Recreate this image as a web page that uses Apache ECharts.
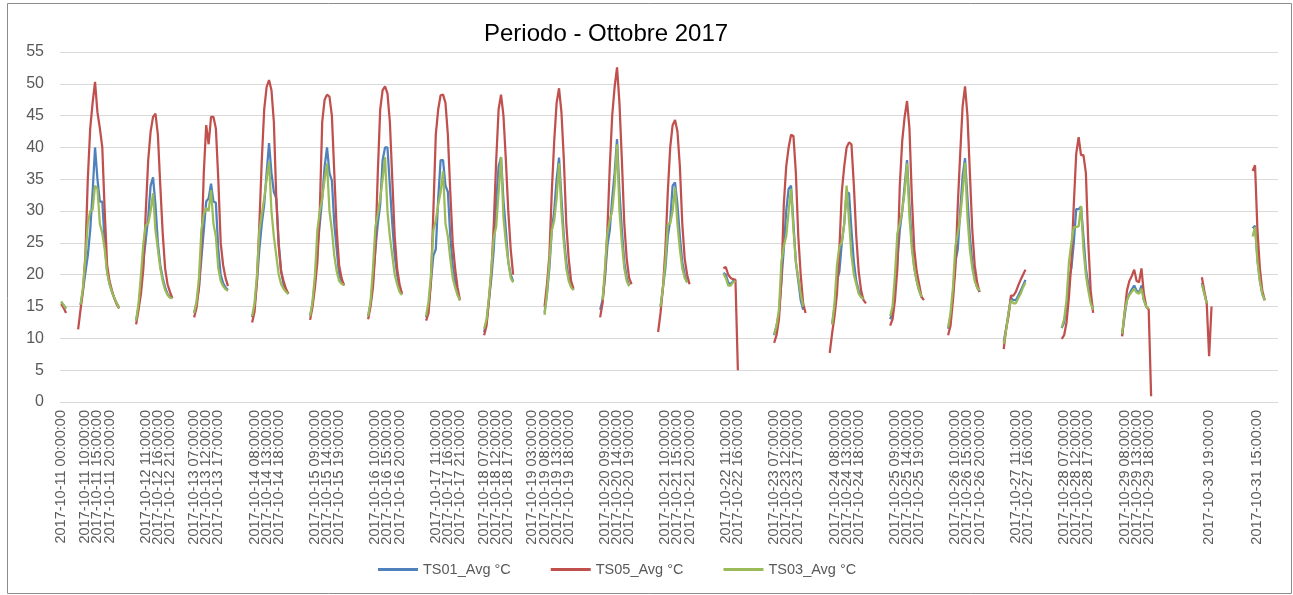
<!DOCTYPE html>
<html>
<head>
<meta charset="utf-8">
<script src="https://cdn.jsdelivr.net/npm/echarts@6/dist/echarts.min.js"></script>
<style>
    html, body { margin: 0; padding: 0; background: #fff; }
    #chart { width: 1293px; height: 595px; }
</style>
</head>
<body>
<div id="chart"></div>
<script>
    // hourly rows from 2017-10-11 00:00 to 2017-10-31 23:00
    const firstDay = 11, lastDay = 31;
    const categories = [];
    for (let d = firstDay; d <= lastDay; d++) {
        for (let h = 0; h < 24; h++) {
            categories.push('2017-10-' + d + ' ' + (h < 10 ? '0' + h : h) + ':00:00');
        }
    }

    // labels shown on the x axis
    const tickLabels = [
        '2017-10-11 00:00:00', '2017-10-11 10:00:00', '2017-10-11 15:00:00', '2017-10-11 20:00:00',
        '2017-10-12 11:00:00', '2017-10-12 16:00:00', '2017-10-12 21:00:00',
        '2017-10-13 07:00:00', '2017-10-13 12:00:00', '2017-10-13 17:00:00',
        '2017-10-14 08:00:00', '2017-10-14 13:00:00', '2017-10-14 18:00:00',
        '2017-10-15 09:00:00', '2017-10-15 14:00:00', '2017-10-15 19:00:00',
        '2017-10-16 10:00:00', '2017-10-16 15:00:00', '2017-10-16 20:00:00',
        '2017-10-17 11:00:00', '2017-10-17 16:00:00', '2017-10-17 21:00:00',
        '2017-10-18 07:00:00', '2017-10-18 12:00:00', '2017-10-18 17:00:00',
        '2017-10-19 03:00:00', '2017-10-19 08:00:00', '2017-10-19 13:00:00', '2017-10-19 18:00:00',
        '2017-10-20 09:00:00', '2017-10-20 14:00:00', '2017-10-20 19:00:00',
        '2017-10-21 10:00:00', '2017-10-21 15:00:00', '2017-10-21 20:00:00',
        '2017-10-22 11:00:00', '2017-10-22 16:00:00',
        '2017-10-23 07:00:00', '2017-10-23 12:00:00', '2017-10-23 17:00:00',
        '2017-10-24 08:00:00', '2017-10-24 13:00:00', '2017-10-24 18:00:00',
        '2017-10-25 09:00:00', '2017-10-25 14:00:00', '2017-10-25 19:00:00',
        '2017-10-26 10:00:00', '2017-10-26 15:00:00', '2017-10-26 20:00:00',
        '2017-10-27 11:00:00', '2017-10-27 16:00:00',
        '2017-10-28 07:00:00', '2017-10-28 12:00:00', '2017-10-28 17:00:00',
        '2017-10-29 08:00:00', '2017-10-29 13:00:00', '2017-10-29 18:00:00',
        '2017-10-30 19:00:00',
        '2017-10-31 15:00:00'
    ];

    // each entry: first timestamp of a run, then consecutive hourly values
    const ts01 = [
        ['2017-10-11 00:00:00', [15.7, 15.2, 14.7]],
        ['2017-10-11 08:00:00', [15.2, 17.5, 20.3, 23, 27, 33, 40, 35, 31.5, 31.5, 25, 20.5, 18.5, 17.3, 16.3, 15.5, 14.8]],
        ['2017-10-12 07:00:00', [12.8, 15, 18.5, 22, 25.5, 29, 34, 35.3, 31, 25, 21.5, 19.5, 18, 17, 16.5, 16.3]],
        ['2017-10-13 07:00:00', [14, 15.5, 18, 22.5, 27, 31.5, 32, 34.3, 31.5, 31.3, 24, 20, 18.7, 18, 17.6]],
        ['2017-10-14 07:00:00', [13.3, 15, 19, 24, 28, 31, 36, 40.7, 36, 33, 32, 25, 20.5, 18.5, 17.5, 17]],
        ['2017-10-15 07:00:00', [13.5, 15.5, 19, 24, 28, 32, 37, 40, 36, 34.8, 28, 24, 20, 19, 18.5]],
        ['2017-10-16 07:00:00', [13.5, 15.5, 19, 24, 28, 31, 38, 40, 40, 34, 28, 23, 20, 18, 17]],
        ['2017-10-17 07:00:00', [13.3, 15, 19, 23, 24, 32, 38, 38, 34, 33, 26, 21.5, 19, 17, 16]],
        ['2017-10-18 07:00:00', [11, 12.5, 16, 19.5, 24, 31.5, 37, 38.5, 31.7, 27, 22, 20, 19]],
        ['2017-10-19 08:00:00', [14, 17, 21, 27, 30, 35, 38.4, 32, 26, 22, 19.5, 18.2, 17.6]],
        ['2017-10-20 07:00:00', [14.5, 16, 19.5, 24.5, 27, 32, 36, 41.3, 33, 27, 22, 19.5, 18.3]],
        ['2017-10-21 08:00:00', [15, 18, 21, 26, 28.5, 34, 34.5, 31, 26, 22, 20, 18.8]],
        ['2017-10-22 10:00:00', [20.3, 20, 18.8, 18.5, 19, 19]],
        ['2017-10-23 07:00:00', [10.5, 12, 14, 19, 24, 30, 33.5, 34, 28, 22, 19, 16, 14.5]],
        ['2017-10-24 07:00:00', [12.2, 15, 19, 20.5, 25, 28, 33, 32.8, 27, 22, 19, 17.5, 16.5, 16.2]],
        ['2017-10-25 07:00:00', [13, 14, 18, 22, 27, 30, 34, 38, 31, 25, 21, 19, 17.5, 16.5]],
        ['2017-10-26 07:00:00', [11.5, 13.5, 17, 22, 24, 30, 35.5, 38.3, 32, 26, 22, 19.5, 18, 17.3]],
        ['2017-10-27 06:00:00', [9.5, 11.5, 14, 16.4, 16, 16, 16.7, 17.5, 18.3, 19.2]],
        ['2017-10-28 06:00:00', [11.6, 12.5, 15, 19.5, 21, 25, 30.3, 30.3, 30.7, 26, 21, 18.5, 16, 14.5]],
        ['2017-10-29 07:00:00', [10.5, 13.5, 16, 17, 17.7, 18.3, 17.5, 17.2, 18.3, 16, 15, 14.6]],
        ['2017-10-30 16:00:00', [18.7, 17.1, 15.6]],
        ['2017-10-31 13:00:00', [27.3, 27.7, 22.5, 19, 17, 16]]
    ];

    const ts05 = [
        ['2017-10-11 00:00:00', [15.4, 14.8, 14.0]],
        ['2017-10-11 07:00:00', [11.4, 14.5, 17.5, 23, 35, 43, 47, 50.3, 45.5, 43, 40, 30, 21.5, 19, 17.5, 16.3, 15.3, 14.7]],
        ['2017-10-12 07:00:00', [12.2, 14.5, 17, 21, 30, 38, 42.5, 44.8, 45.3, 42, 34, 26.5, 21, 18.5, 17.3, 16.3]],
        ['2017-10-13 07:00:00', [13.3, 14.8, 18, 24, 36, 43.5, 40.5, 44.8, 44.8, 43, 35, 25, 21.5, 19.5, 18.2]],
        ['2017-10-14 07:00:00', [12.5, 14.2, 19, 28, 38, 46, 49.5, 50.6, 49, 44, 32, 24.5, 20.5, 19, 17.8, 17]],
        ['2017-10-15 07:00:00', [12.9, 15, 18, 22, 30, 44, 47.5, 48.3, 48, 45, 36, 27, 21.5, 19.5, 18.3]],
        ['2017-10-16 07:00:00', [13, 15, 18, 24, 36, 46, 49, 49.6, 48.5, 44, 35, 26, 21, 18.5, 17]],
        ['2017-10-17 07:00:00', [12.8, 14, 19, 30, 42, 46, 48.2, 48.3, 47, 42, 33, 25, 21, 18, 16]],
        ['2017-10-18 07:00:00', [10.5, 12, 16, 20.5, 28, 38, 46, 48.3, 45, 38, 30, 24, 20]],
        ['2017-10-19 08:00:00', [15, 18.5, 23, 33, 41, 47, 49.3, 45.5, 38, 28, 22.5, 19, 17.8]],
        ['2017-10-20 07:00:00', [13.3, 15.5, 20, 27, 37, 45, 49.5, 52.6, 47, 38, 28, 22.5, 19.5, 18.5]],
        ['2017-10-21 07:00:00', [11, 14, 18, 24, 33, 40, 43.5, 44.3, 42.5, 37, 28, 22.5, 20, 18.5]],
        ['2017-10-22 10:00:00', [21, 21.2, 20, 19.5, 19.3, 19.2, 5]],
        ['2017-10-23 07:00:00', [9.3, 10.5, 13, 19, 31, 37, 40, 42, 41.8, 36, 26, 20, 15.5, 14]],
        ['2017-10-24 06:00:00', [7.7, 10.8, 13.5, 17, 24, 33, 37, 40, 40.8, 40.5, 34, 26, 20.5, 17.5, 16, 15.5]],
        ['2017-10-25 07:00:00', [12, 13, 16, 21, 34, 41, 44.8, 47.3, 43, 32, 24, 20.5, 18.5, 16.5, 16]],
        ['2017-10-26 07:00:00', [10.5, 12, 16, 21, 31, 39, 46.5, 49.6, 45, 36, 27, 21.5, 18.8, 17.3]],
        ['2017-10-27 06:00:00', [8.3, 11.5, 13.5, 16.7, 16.7, 17.3, 18.3, 19.2, 20, 20.8]],
        ['2017-10-28 06:00:00', [9.9, 10.5, 12.5, 16.5, 22, 31, 39, 41.6, 38.8, 38.8, 36, 25, 17.5, 14]],
        ['2017-10-29 07:00:00', [10.3, 14, 17.5, 19, 19.8, 20.8, 19, 18.8, 21, 17, 15, 14.5, 0.9]],
        ['2017-10-30 16:00:00', [19.6, 17.5, 15.5, 7.2, 15]],
        ['2017-10-31 13:00:00', [36.3, 37.2, 27, 21, 17.5, 16]]
    ];

    const ts03 = [
        ['2017-10-11 00:00:00', [15.8, 15.2, 14.7]],
        ['2017-10-11 08:00:00', [15.3, 18, 22.5, 28, 30, 30.2, 34, 33.5, 28, 26.5, 24, 20.3, 18.5, 17.3, 16.3, 15.5, 14.8]],
        ['2017-10-12 07:00:00', [12.8, 15.5, 20, 25, 27.8, 28, 30, 32.8, 27, 24, 21, 19, 17.6, 16.8, 16.4, 16.3]],
        ['2017-10-13 07:00:00', [14, 15.8, 19.5, 27, 29.5, 30.5, 30, 33.3, 28, 26, 21, 19, 18.2, 17.7, 17.5]],
        ['2017-10-14 07:00:00', [13.5, 15.5, 20, 27, 29.5, 32, 35, 37.8, 30, 26, 23, 20, 18.5, 17.8, 17.3, 17]],
        ['2017-10-15 07:00:00', [13.5, 15.8, 20, 27, 30, 32, 35, 37.5, 30, 27, 23, 20.5, 19, 18.6, 18.4]],
        ['2017-10-16 07:00:00', [13.5, 15.8, 21, 27.5, 29.5, 32, 35, 38.5, 30, 26, 23, 20, 18.5, 17.3, 16.8]],
        ['2017-10-17 07:00:00', [13.5, 15.8, 20, 27, 28.5, 31, 33, 36.3, 28, 26, 22.5, 19.5, 18, 16.8, 16]],
        ['2017-10-18 07:00:00', [11.5, 13, 16.5, 21, 26, 27.5, 33, 38.5, 29, 25, 22, 19.5, 18.8]],
        ['2017-10-19 08:00:00', [13.7, 17, 22, 27, 28.5, 32, 37.5, 30, 25, 21, 19, 18, 17.6]],
        ['2017-10-20 08:00:00', [16, 21, 26.5, 28.5, 30, 34, 40.5, 30, 25, 21, 19, 18.2]],
        ['2017-10-21 08:00:00', [15, 18, 22, 28, 28, 30, 33.7, 28, 24, 21, 19.5, 18.8]],
        ['2017-10-22 10:00:00', [20.2, 19.5, 18.3, 18.3, 18.8, 19]],
        ['2017-10-23 07:00:00', [10.6, 12, 14.5, 22, 24.5, 26, 30, 33.5, 27, 22, 19.5, 17, 15]],
        ['2017-10-24 07:00:00', [12.2, 15.5, 21.5, 24.5, 25, 28, 34, 28.5, 23, 20, 18.5, 17, 16.5, 16.2]],
        ['2017-10-25 07:00:00', [13.5, 15, 20, 26.5, 28, 30, 33, 37.5, 29, 24, 21, 19, 17.5, 16.5]],
        ['2017-10-26 07:00:00', [11.7, 14, 18, 24.5, 26.5, 29, 33, 37.6, 29, 24, 21, 19, 18, 17.5]],
        ['2017-10-27 06:00:00', [9.2, 11.3, 14, 16, 15.5, 15.5, 16.3, 17, 18, 18.8]],
        ['2017-10-28 06:00:00', [11.7, 13, 16, 22, 25, 27.5, 27.5, 27.6, 30.8, 24, 20, 17.5, 15.5, 14.5]],
        ['2017-10-29 07:00:00', [10.7, 14, 16, 16.8, 17.3, 17.8, 17.2, 17, 17.8, 16, 15, 14.6]],
        ['2017-10-30 16:00:00', [18.5, 17, 15.5]],
        ['2017-10-31 13:00:00', [26, 27.5, 22, 19, 17, 16]]
    ];

    function toSeriesData(runs) {
        let arr = categories.map(() => null);
        runs.forEach(run => {
            let i = categories.indexOf(run[0]);
            run[1].forEach((v, k) => { arr[i + k] = v; });
        });
        return arr;
    }

    let chart = echarts.init(document.getElementById('chart'));
    let labelSet = new Set(tickLabels);
    let font = 'Liberation Sans, Arial, sans-serif';

    let lineSeries = (name, runs, color) => ({
        name: name,
        type: 'line',
        data: toSeriesData(runs),
        symbol: 'none',
        connectNulls: false,
        lineStyle: { width: 2.25, color: color },
        itemStyle: { color: color }
    });

    let option = {
        animation: false,
        title: {
            text: 'Periodo - Ottobre 2017',
            left: 479,
            top: 17,
            textStyle: { fontFamily: font, fontSize: 24, fontWeight: 'normal', color: '#000' }
        },
        legend: {
            bottom: 13,
            left: 373,
            icon: 'rect',
            itemWidth: 40,
            itemHeight: 3,
            itemGap: 40,
            textStyle: { fontFamily: font, fontSize: 14.5, color: '#595959' },
            data: ['TS01_Avg °C', 'TS05_Avg °C', 'TS03_Avg °C']
        },
        grid: { left: 60, right: 15, top: 52, bottom: 193 },
        xAxis: {
            type: 'category',
            data: categories,
            boundaryGap: true,
            axisTick: { show: false },
            axisLine: { lineStyle: { color: '#d9d9d9' } },
            axisLabel: {
                rotate: 90,
                margin: 8,
                interval: (idx, val) => labelSet.has(val),
                fontFamily: font,
                fontSize: 14.5,
                color: '#595959'
            }
        },
        yAxis: {
            type: 'value',
            min: 0,
            max: 55,
            interval: 5,
            axisLine: { show: false },
            axisTick: { show: false },
            splitLine: { lineStyle: { color: '#d9d9d9', width: 1 } },
            axisLabel: { fontFamily: font, fontSize: 16, color: '#595959', margin: 16 }
        },
        series: [
            lineSeries('TS01_Avg °C', ts01, '#4F81BD'),
            lineSeries('TS05_Avg °C', ts05, '#C0504D'),
            lineSeries('TS03_Avg °C', ts03, '#9BBB59')
        ],
        graphic: [{
            type: 'rect',
            shape: { x: 7.5, y: 3.5, width: 1284, height: 590 },
            style: { fill: 'none', stroke: '#8c8c8c', lineWidth: 1 },
            silent: true
        }]
    };
    chart.setOption(option);
</script>
</body>
</html>
